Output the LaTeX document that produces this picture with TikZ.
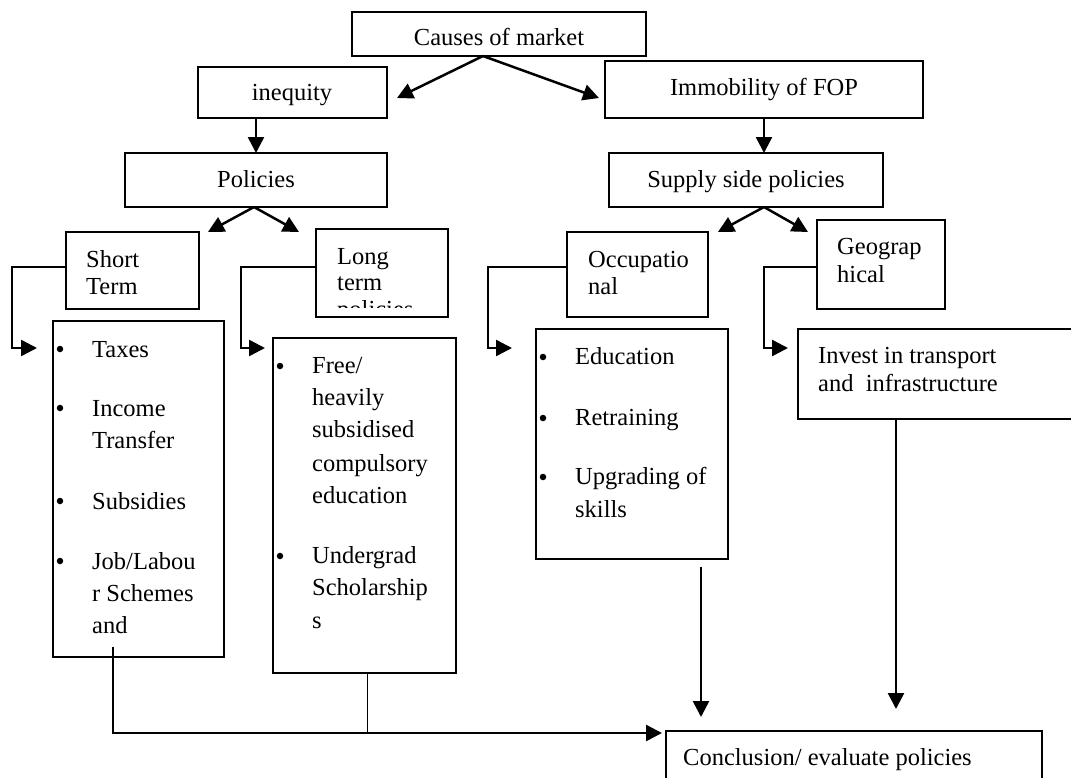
\documentclass[tikz,border=0pt]{standalone}
\usepackage{fontspec}
\setmainfont{Liberation Serif}
\usetikzlibrary{arrows.meta,calc}
\begin{document}
\begin{tikzpicture}[x=1pt,y=-1pt,
  box/.style={draw, line width=1.9pt, inner sep=0pt, outer sep=0pt, anchor=north west},
  txt/.style={font=\fontsize{24.5}{28}\selectfont, inner sep=0pt, anchor=base west},
  hd/.style={font=\fontsize{24.5}{28}\selectfont, inner sep=0pt, anchor=base},
  dot/.style={circle, fill, inner sep=0pt, minimum size=6.5pt},
  arr/.style={line width=2.5pt, -{Triangle[length=16pt,width=16pt]}},
  thin/.style={line width=1.7pt}]
\clip (0,0) rectangle (1071,777);
% boxes
\node[box, minimum width=294pt, minimum height=44pt] (causes) at (352,12) {};
\node[box, minimum width=189pt, minimum height=51pt] (inequity) at (198,67) {};
\node[box, minimum width=318pt, minimum height=57pt] (immob) at (605,61) {};
\node[box, minimum width=262pt, minimum height=54pt] (policies) at (125,153) {};
\node[box, minimum width=274pt, minimum height=54pt] (supply) at (609,153) {};
\node[box, minimum width=133pt, minimum height=77pt] (short) at (66,232) {};
\node[box, minimum width=132pt, minimum height=88pt] (long) at (316,229) {};
\node[box, minimum width=141pt, minimum height=85pt] (occ) at (567,232) {};
\node[box, minimum width=128pt, minimum height=89pt] (geo) at (817,220) {};
\node[box, minimum width=171pt, minimum height=336pt] (taxes) at (53,321) {};
\node[box, minimum width=183pt, minimum height=335pt] (free) at (273,338) {};
\node[box, minimum width=192pt, minimum height=230pt] (edu) at (536,329) {};
\node[box, minimum width=290pt, minimum height=90pt] (invest) at (798,329) {};
\node[box, minimum width=376pt, minimum height=70pt] (concl) at (666,731) {};
% headings
\node[hd] (tcauses) at (499,45) {Causes of market};
\node[hd] (tineq) at (292,100) {inequity};
\node[hd] (timmob) at (764,95) {Immobility of FOP};
\node[hd] (tpol) at (256,187) {Policies};
\node[hd] (tsup) at (746,187) {Supply side policies};
\node[txt] (tconcl) at (683,765) {Conclusion/ evaluate policies};
% small boxes text
\node[txt] (ts1) at (86,267) {Short};
\node[txt] (ts2) at (86,294) {Term};
\begin{scope}
\clip (316,229) rectangle (448,307);
\node[txt] (tl1) at (337,264) {Long};
\node[txt] (tl2) at (337,290) {term};
\node[txt] (tl3) at (337,317) {policies};
\end{scope}
\node[txt] (to1) at (588,267) {Occupatio};
\node[txt] (to2) at (588,294) {nal};
\node[txt] (tg1) at (837,254) {Geograp};
\node[txt] (tg2) at (837,282) {hical};
\node[txt] (ti1) at (818,363) {Invest in transport};
\node[txt] (ti2) at (818,391) {and~ infrastructure};
% taxes list
\node[dot] (b1) at (60,349) {};
\node[dot] (b2) at (60,408) {};
\node[dot] (b3) at (60,501) {};
\node[dot] (b4) at (60,561) {};
\node[txt] (x1) at (92,357) {Taxes};
\node[txt] (x2) at (92,416) {Income};
\node[txt] (x3) at (92,448) {Transfer};
\node[txt] (x4) at (92,509) {Subsidies};
\node[txt] (x5) at (92,569) {Job/Labou};
\node[txt] (x6) at (92,601) {r Schemes};
\node[txt] (x7) at (92,633) {and};
% free list
\node[dot] (b5) at (280,366) {};
\node[dot] (b6) at (280,556) {};
\node[txt] (f1) at (312,373) {Free/};
\node[txt] (f2) at (312,405) {heavily};
\node[txt] (f3) at (312,437) {subsidised};
\node[txt] (f4) at (312,471) {compulsory};
\node[txt] (f5) at (312,503) {education};
\node[txt] (f6) at (312,563) {Undergrad};
\node[txt] (f7) at (312,595) {Scholarship};
\node[txt] (f8) at (312,628) {s};
% edu list
\node[dot] (b7) at (543,357) {};
\node[dot] (b8) at (543,418) {};
\node[dot] (b9) at (543,477) {};
\node[txt] (e1t) at (575,364) {Education};
\node[txt] (e2t) at (575,425) {Retraining};
\node[txt] (e3t) at (575,484) {Upgrading of};
\node[txt] (e4t) at (575,517) {skills};
% coordinates
\coordinate (ciq) at (397,98);
\coordinate (cim) at (599,98);
\coordinate (pl) at (208,232);
\coordinate (pr) at (299,232);
\coordinate (sl) at (718,232);
\coordinate (sr) at (808,232);
\coordinate (k1) at (12,348);
\coordinate (tk1) at (37,348);
\coordinate (k2) at (241,348);
\coordinate (tk2) at (265,348);
\coordinate (k3) at (488,348);
\coordinate (tk3) at (512,348);
\coordinate (k4) at (764,348);
\coordinate (tk4) at (788,348);
\coordinate (ea) at (701,567);
\coordinate (eb) at (701,717);
\coordinate (ib) at (896,709);
\coordinate (tj) at (113,647);
\coordinate (jn) at (113,733);
% connectors
\draw[arr] ([xshift=-16pt]causes.south) -- (ciq);
\draw[arr] ([xshift=-16pt]causes.south) -- (cim);
\draw[arr] (policies.north |- inequity.south) -- (policies.north);
\draw[arr] (immob.south) -- (immob.south |- supply.north);
\draw[arr] ([xshift=-2pt]policies.south) -- (pl);
\draw[arr] ([xshift=-2pt]policies.south) -- (pr);
\draw[arr] (immob.south |- supply.south) -- (sl);
\draw[arr] (immob.south |- supply.south) -- (sr);
\draw[arr] ([yshift=3.5pt]short.west) -| (k1) -- (tk1);
\draw[arr] ([yshift=6pt]long.west) -| (k2) -- (tk2);
\draw[arr] ([yshift=7.5pt]occ.west) -| (k3) -- (tk3);
\draw[arr] ([yshift=-2.5pt]geo.west) -| (k4) -- (tk4);
\draw[arr] (ea) -- (eb);
\draw[arr] ([xshift=98pt]invest.south west) -- (ib);
\draw[arr] (tj) -- (jn) -- ($(concl.north west)+(-4,2)$);
\draw[thin] ([xshift=3pt]free.south) -- ([xshift=3pt]free.south |- jn);
\end{tikzpicture}
\end{document}
